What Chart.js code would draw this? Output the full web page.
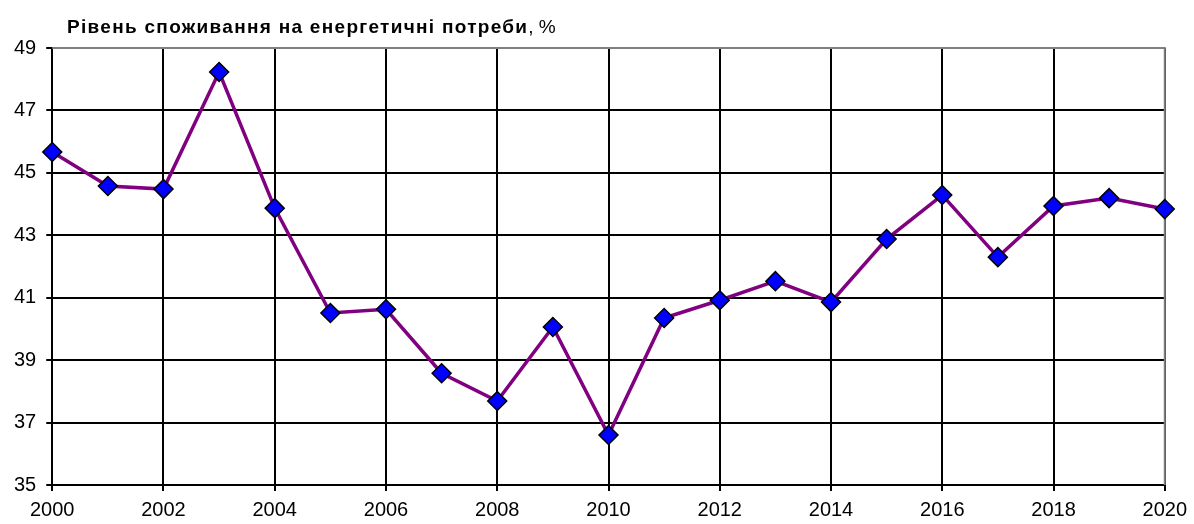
<!DOCTYPE html>
<html>
<head>
<meta charset="utf-8">
<script src="https://cdn.jsdelivr.net/npm/chart.js@4.4.1/dist/chart.umd.min.js"></script>
<style>
  html, body { margin: 0; padding: 0; background: #ffffff; }
  #wrap { width: 1194px; height: 524px; }
</style>
</head>
<body>
<div id="wrap"><canvas id="chart" width="1194" height="524"></canvas></div>
<script>
const years = [2000, 2001, 2002, 2003, 2004, 2005, 2006, 2007, 2008, 2009, 2010,
  2011, 2012, 2013, 2014, 2015, 2016, 2017, 2018, 2019, 2020];
const consumption = [45.67, 44.58, 44.48, 48.23, 43.87, 40.51, 40.63, 38.58, 37.69, 40.06, 36.6,
  40.35, 40.92, 41.53, 40.86, 42.88, 44.29, 42.3, 43.94, 44.19, 43.84];
const titleBold = 'Рівень споживання на енергетичні потреби';
const titleRest = ', %';

const titlePlugin = {
  id: 'titleText',
  afterDraw(chart) {
    const ctx = chart.ctx;
    ctx.save();
    ctx.fillStyle = '#000000';
    ctx.textBaseline = 'middle';
    ctx.font = 'bold 19px "Liberation Sans", Arial, sans-serif';
    ctx.letterSpacing = '1.3px';
    const x = 67;
    const y = 28;
    ctx.fillText(titleBold, x, y);
    const w = ctx.measureText(titleBold).width;
    ctx.font = '19px "Liberation Sans", Arial, sans-serif';
    ctx.letterSpacing = '0px';
    ctx.fillText(titleRest, x + w, y);
    ctx.restore();
  }
};

new Chart(document.getElementById('chart'), {
  type: 'line',
  data: {
    datasets: [{
      data: years.map((year, i) => ({ x: year, y: consumption[i] })),
      borderColor: '#800080',
      borderWidth: 3.5,
      tension: 0,
      clip: false,
      pointStyle: 'rectRot',
      pointRadius: 9.5,
      pointHoverRadius: 9.5,
      pointBackgroundColor: '#0000ff',
      pointBorderColor: '#000000',
      pointBorderWidth: 1.5
    }]
  },
  options: {
    responsive: false,
    animation: false,
    layout: { padding: { top: 48, right: 28, left: 4, bottom: -5 } },
    plugins: { legend: { display: false }, tooltip: { enabled: false } },
    scales: {
      x: {
        type: 'linear',
        min: 2000,
        max: 2020,
        border: { color: '#000000', width: 2 },
        grid: { color: '#000000', lineWidth: 2, tickLength: 6 },
        ticks: {
          stepSize: 2,
          color: '#000000',
          font: { family: '"Liberation Sans", Arial, sans-serif', size: 20 },
          padding: 7,
          maxRotation: 0,
          callback: (v) => String(v)
        }
      },
      y: {
        min: 35,
        max: 49,
        border: { color: '#000000', width: 2 },
        grid: { color: '#000000', lineWidth: 2, tickLength: 6 },
        ticks: {
          stepSize: 2,
          color: '#000000',
          font: { family: '"Liberation Sans", Arial, sans-serif', size: 20 },
          padding: 10
        }
      }
    }
  },
  plugins: [titlePlugin, {
    id: 'frame',
    beforeDatasetsDraw(chart) {
      const { ctx, chartArea: a } = chart;
      ctx.save();
      ctx.strokeStyle = '#808080';
      ctx.lineWidth = 2;
      ctx.beginPath();
      ctx.moveTo(a.left, a.top);
      ctx.lineTo(a.right, a.top);
      ctx.lineTo(a.right, a.bottom);
      ctx.stroke();
      ctx.restore();
    }
  }]
});
</script>
</body>
</html>
